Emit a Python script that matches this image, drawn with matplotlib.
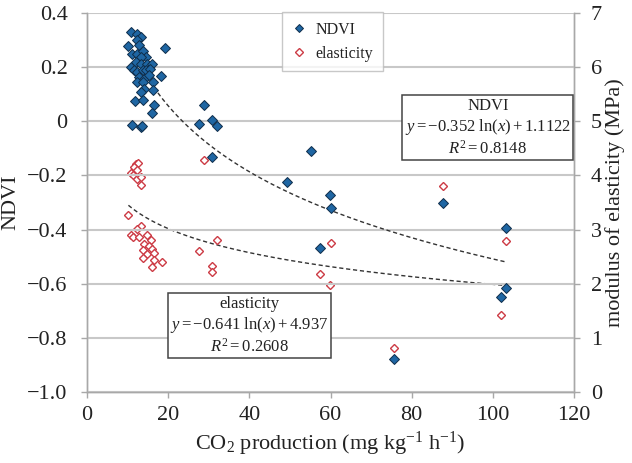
import numpy as np
import matplotlib
matplotlib.use("Agg")
import matplotlib.pyplot as plt
from matplotlib.lines import Line2D

plt.rcParams['font.family'] = ['Liberation Serif', 'DejaVu Serif']
plt.rcParams['mathtext.fontset'] = 'custom'
plt.rcParams['mathtext.rm'] = 'Liberation Serif'
plt.rcParams['mathtext.it'] = 'Liberation Serif:italic'
plt.rcParams['mathtext.bf'] = 'Liberation Serif:bold'

# ---- data ----
ndvi_x = [10.8, 12.2, 13.2, 12.4, 10.2, 12.8, 19.3, 11.2, 12.4, 13.7, 14.5, 13.2,
          10.8, 12.0, 13.2, 14.9, 16.0, 11.5, 12.4, 13.7, 14.5, 15.6, 12.8, 14.1,
          15.3, 18.2, 12.4, 13.7, 16.3, 14.1, 13.2, 16.3, 11.9, 13.7, 16.5, 16.0,
          11.2, 13.2, 13.6, 28.9, 27.7, 30.9, 32.0, 30.9, 55.2, 49.3, 59.8, 60.0,
          57.5, 75.7, 87.7, 103.2, 103.2, 102.1]
ndvi_y = [0.331, 0.322, 0.312, 0.300, 0.278, 0.281, 0.273, 0.251, 0.251, 0.262, 0.238, 0.240,
          0.201, 0.220, 0.214, 0.214, 0.214, 0.190, 0.183, 0.189, 0.189, 0.195, 0.164, 0.158,
          0.170, 0.167, 0.146, 0.146, 0.146, 0.121, 0.109, 0.115, 0.075, 0.080, 0.059, 0.032,
          -0.015, -0.021, -0.018, 0.059, -0.009, 0.006, -0.017, -0.130, -0.110, -0.225, -0.273, -0.321,
          -0.469, -0.878, -0.302, -0.393, -0.617, -0.651]

elas_x = [12.0, 12.6, 11.6, 12.4, 10.8, 11.3, 12.4, 13.4, 13.2, 10.2, 13.3, 12.2,
          10.8, 11.3, 12.8, 14.9, 15.7, 14.1, 15.3, 16.1, 13.7, 14.9, 16.5, 13.7,
          16.5, 18.4, 16.0, 28.9, 32.0, 27.7, 30.9, 30.9, 60.0, 57.3, 59.8, 75.6,
          87.6, 103.3, 102.1]
elas_y = [4.22, 4.23, 4.15, 4.10, 4.04, 4.00, 3.94, 3.97, 3.83, 3.26, 3.06, 3.01,
          2.89, 2.86, 2.87, 2.89, 2.81, 2.74, 2.70, 2.64, 2.62, 2.54, 2.56, 2.48,
          2.43, 2.39, 2.30, 4.28, 2.80, 2.61, 2.33, 2.22, 2.75, 2.18, 1.98, 0.81,
          3.80, 2.78, 1.42]

ndvi_fit = (-0.352, 1.1122)      # y = a ln(x) + b
ndvi_fit_range = (15.5, 103.5)
elas_fit = (-0.641, 4.937)
elas_fit_range = (10.2, 103.3)

x_ticks = [0, 20, 40, 60, 80, 100, 120]
left_ticks = [0.4, 0.2, 0, -0.2, -0.4, -0.6, -0.8, -1.0]
left_labels = ['0.4', '0.2', '0', '\u22120.2', '\u22120.4', '\u22120.6', '\u22120.8', '\u22121.0']
right_ticks = [0, 1, 2, 3, 4, 5, 6, 7]

# ---- figure ----
fig = plt.figure(figsize=(6.32, 4.63), dpi=100)
ax = fig.add_axes([0.1377, 0.154, 0.7705, 0.8173])
ax2 = ax.twinx()

grid_c = '#c8c8c8'
spine_c = '#a8a8a8'
txt_c = '#222222'

ax.set_xlim(0, 120)
ax.set_ylim(-1.0, 0.4)
ax2.set_ylim(0, 7)

ax.set_xticks(x_ticks)
ax.set_yticks(left_ticks)
ax.set_yticklabels(left_labels)
ax2.set_yticks(right_ticks)

for a in (ax, ax2):
    for s in a.spines.values():
        s.set_color(spine_c)
        s.set_linewidth(1.0)
    a.spines['top'].set_visible(False)
    a.tick_params(colors=spine_c, labelcolor=txt_c, labelsize=16, length=4, width=1)
ax.tick_params(axis='y', pad=10)
ax2.tick_params(axis='y', pad=8)
ax.tick_params(axis='x', pad=6)

ax.yaxis.grid(True, color=grid_c, linewidth=1.5)
ax.set_axisbelow(True)
ax.set_zorder(ax2.get_zorder() + 1)
ax.patch.set_visible(False)

# trend lines
xf = np.linspace(*ndvi_fit_range, 200)
ax.plot(xf, ndvi_fit[0] * np.log(xf) + ndvi_fit[1], color='#333333', lw=1.0,
        ls=(0, (3, 2)), zorder=1)
xe = np.linspace(*elas_fit_range, 200)
ax2.plot(xe, elas_fit[0] * np.log(xe) + elas_fit[1], color='#333333', lw=1.0,
         ls=(0, (3, 2)), zorder=1)

# scatter
ax2.plot(elas_x, elas_y, ls='none', marker='D', ms=4.4, mfc='white',
         mec='#cc3b45', mew=1.0, zorder=3)
ax.plot(ndvi_x, ndvi_y, ls='none', marker='D', ms=4.6, mfc='#1f66a3',
        mec='#0f2d4a', mew=0.7, zorder=3)

ax.set_ylabel('NDVI', fontsize=16, color=txt_c)
ax.yaxis.set_label_coords(-0.137, 0.5)
ax2.set_ylabel('modulus of elasticity (MPa)', fontsize=16, color=txt_c)
ax2.yaxis.set_label_coords(1.064, 0.5)
ax.set_xlabel('CO$_2$ production (mg kg$^{-1}$ h$^{-1}$)', fontsize=16, color=txt_c, labelpad=4)

# legend
h1 = Line2D([], [], ls='none', marker='D', ms=4.0, mfc='#1f66a3', mec='#0f2d4a', mew=0.7)
h2 = Line2D([], [], ls='none', marker='D', ms=3.6, mfc='white', mec='#cc3b45', mew=1.0)
leg = fig.legend([h1, h2], ['NDVI', 'elasticity'], loc='upper left',
                 bbox_to_anchor=(0.446, 0.974), bbox_transform=fig.transFigure,
                 fontsize=11.5, frameon=True, fancybox=False, handlelength=1.0,
                 handletextpad=0.5, borderpad=0.6, labelspacing=0.5, borderaxespad=0)
leg.get_frame().set_edgecolor('#bbbbbb')
leg.get_frame().set_linewidth(1.0)
for t in leg.get_texts():
    t.set_color(txt_c)

# equation boxes
box = dict(boxstyle='square,pad=0.15', facecolor='white', edgecolor='#444444', lw=1.1)
fig.text(0.772, 0.7246, 'NDVI\n$y = -0.352\\ \\mathrm{ln}(x) + 1.1122$\n$R^2 = 0.8148$',
         ha='center', va='center', multialignment='center', fontsize=12,
         color=txt_c, bbox=box, linespacing=1.2)
fig.text(0.3948, 0.297, 'elasticity\n$y = -0.641\\ \\mathrm{ln}(x) + 4.937$\n$R^2 = 0.2608$',
         ha='center', va='center', multialignment='center', fontsize=12,
         color=txt_c, bbox=box, linespacing=1.2)

fig.savefig('out.png', dpi=100)
